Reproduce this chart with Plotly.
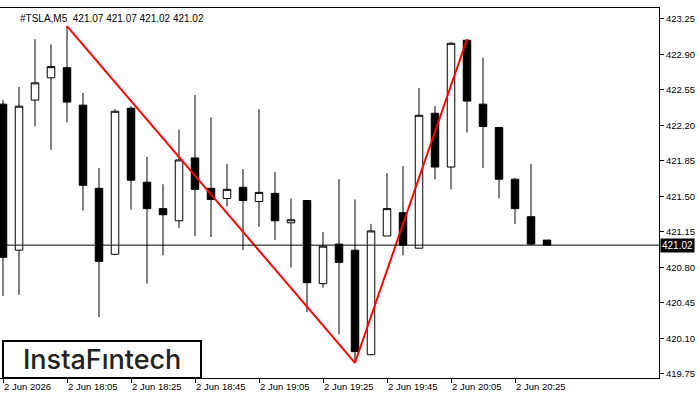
import plotly.graph_objects as go

# ---- data (M5 candles, TSLA) ----
opens  = [422.41, 420.97, 422.45, 422.67, 422.77, 422.40, 421.58, 420.93, 422.37, 421.64,
          421.38, 421.26, 421.88, 421.58, 421.48, 421.59, 421.45, 421.53, 421.24, 421.46,
          420.64, 421.03, 420.97, 419.94, 421.11, 421.34, 420.99, 422.32, 421.79, 423.04,
          422.41, 422.18, 421.67, 421.30, 421.07]
highs  = [422.45, 422.58, 423.05, 423.00, 423.18, 422.52, 421.78, 422.36, 422.39, 421.89,
          421.62, 422.16, 422.50, 422.28, 421.82, 421.77, 422.36, 421.74, 421.48, 421.46,
          421.15, 421.67, 421.47, 421.23, 421.73, 421.80, 422.57, 422.39, 423.02, 423.05,
          422.87, 422.18, 421.68, 421.82, 421.07]
lows   = [420.52, 420.53, 422.19, 421.96, 422.23, 421.36, 420.31, 420.92, 421.37, 420.64,
          420.92, 421.19, 421.11, 421.10, 421.40, 420.97, 421.20, 421.07, 420.80, 420.36,
          420.60, 420.14, 419.86, 419.94, 421.11, 420.92, 420.99, 421.67, 421.57, 422.13,
          421.78, 421.48, 421.23, 421.02, 421.02]
closes = [420.90, 422.39, 422.62, 422.78, 422.43, 421.61, 420.86, 422.34, 421.66, 421.38,
          421.32, 421.86, 421.57, 421.47, 421.57, 421.46, 421.54, 421.26, 421.27, 420.65,
          421.01, 420.85, 419.97, 421.16, 421.38, 421.02, 422.30, 421.79, 423.01, 422.44,
          422.19, 421.67, 421.38, 421.03, 421.02]

x_tick_idx = [0, 4, 8, 12, 16, 20, 24, 28, 32]
x_tick_labels = ["2 Jun 2026", "2 Jun 18:05", "2 Jun 18:25", "2 Jun 18:45", "2 Jun 19:05",
                 "2 Jun 19:25", "2 Jun 19:45", "2 Jun 20:05", "2 Jun 20:25"]
y_ticks = [419.75, 420.10, 420.45, 420.80, 421.15, 421.50, 421.85, 422.20, 422.55, 422.90, 423.25]
y_tick_labels = ["419.75", "420.10", "420.45", "420.80", "421.15", "421.50", "421.85",
                 "422.20", "422.55", "422.90", "423.25"]

pattern_idx = [4, 22, 29]          # double top pattern pivots
current_price = 421.02
title_text = "#TSLA,M5\u00a0\u00a0421.07 421.07 421.02 421.02"

idx = list(range(len(opens)))
pattern_y = [highs[pattern_idx[0]], lows[pattern_idx[1]], highs[pattern_idx[2]]]

fig = go.Figure()
fig.add_trace(go.Candlestick(
    x=idx, open=opens, high=highs, low=lows, close=closes,
    increasing=dict(line=dict(color="black", width=1), fillcolor="white"),
    decreasing=dict(line=dict(color="black", width=1), fillcolor="black"),
    whiskerwidth=0, hoverinfo="skip", showlegend=False,
))
fig.add_trace(go.Scatter(
    x=pattern_idx, y=pattern_y, mode="lines",
    line=dict(color="#ff0000", width=2), hoverinfo="skip", showlegend=False,
))

fig.add_shape(type="line", xref="paper", x0=0, x1=1, yref="y",
              y0=current_price, y1=current_price, line=dict(color="black", width=1))

# logo box
fig.add_shape(type="rect", xref="paper", yref="paper",
              x0=3 / 659, x1=201 / 659, y0=0, y1=0.1,
              line=dict(color="black", width=2), fillcolor="white", layer="above")
fig.add_annotation(xref="paper", yref="paper", x=101.5 / 659, y=0.05,
                   text="InstaF\u0131ntech", showarrow=False,
                   font=dict(family="Inter", size=27, color="#222222", weight=500),
                   xanchor="center", yanchor="middle")

fig.add_annotation(xref="paper", yref="paper", x=18 / 659, y=1 - 3 / 370,
                   text=title_text, showarrow=False, xanchor="left", yanchor="top",
                   font=dict(family="Liberation Sans", size=10, color="black"))

fig.add_annotation(xref="paper", x=1, xanchor="left", xshift=1, yref="y", y=current_price,
                   text=f"{current_price:.2f}", showarrow=False, bgcolor="black",
                   font=dict(family="Liberation Sans", size=10, color="white"),
                   borderpad=1, yanchor="middle")

fig.update_layout(
    width=700, height=400,
    margin=dict(l=0, r=41, t=8, b=22),
    paper_bgcolor="white", plot_bgcolor="white",
    boxgap=0.33,
    xaxis=dict(
        range=[-0.1875, 41.0], rangeslider=dict(visible=False),
        tickmode="array", tickvals=x_tick_idx, ticktext=x_tick_labels,
        ticks="outside", ticklen=4, tickcolor="black", ticklabelposition="outside right",
        showgrid=False, zeroline=False, showline=True, linecolor="black", linewidth=1,
        mirror=True,
        tickfont=dict(family="Liberation Sans", size=9.5, color="black"),
    ),
    yaxis=dict(
        range=[419.71, 423.358], side="right",
        tickmode="array", tickvals=y_ticks, ticktext=y_tick_labels,
        ticks="outside", ticklen=4, tickcolor="black",
        showgrid=False, zeroline=False, showline=True, linecolor="black", linewidth=1,
        mirror=True,
        tickfont=dict(family="Liberation Sans", size=9.5, color="black"),
    ),
)

fig.write_html("out.html")
